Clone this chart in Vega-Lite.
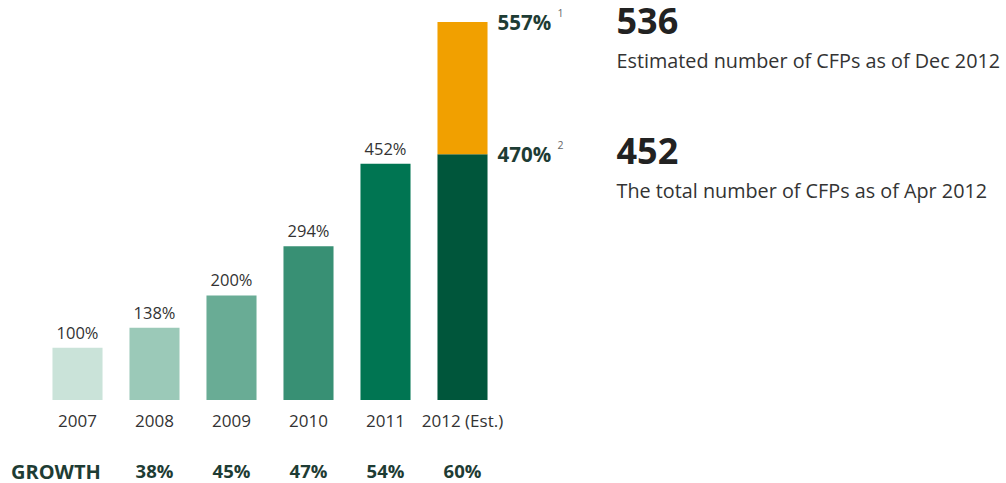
{
  "$schema": "https://vega.github.io/schema/vega-lite/v6.json",
  "padding": {"left": 10, "top": 0, "right": 0, "bottom": 0},
  "background": "white",
  "config": {"view": {"stroke": null}, "font": "Open Sans", "concat": {"spacing": 0}},
  "datasets": {
    "bars": [
      {"year": "2007", "start": 0, "end": 100, "series": "2007", "kind": "actual", "label": "100%", "note": ""},
      {"year": "2008", "start": 0, "end": 138, "series": "2008", "kind": "actual", "label": "138%", "note": ""},
      {"year": "2009", "start": 0, "end": 200, "series": "2009", "kind": "actual", "label": "200%", "note": ""},
      {"year": "2010", "start": 0, "end": 294, "series": "2010", "kind": "actual", "label": "294%", "note": ""},
      {"year": "2011", "start": 0, "end": 452, "series": "2011", "kind": "actual", "label": "452%", "note": ""},
      {"year": "2012 (Est.)", "start": 0, "end": 470, "series": "2012", "kind": "estimate", "label": "470%", "note": "2"},
      {"year": "2012 (Est.)", "start": 470, "end": 723, "series": "2012 Dec estimate", "kind": "estimate", "label": "557%", "note": "1"}
    ],
    "growth": [
      {"year": "2008", "row": "GROWTH", "growth": "38%"},
      {"year": "2009", "row": "GROWTH", "growth": "45%"},
      {"year": "2010", "row": "GROWTH", "growth": "47%"},
      {"year": "2011", "row": "GROWTH", "growth": "54%"},
      {"year": "2012 (Est.)", "row": "GROWTH", "growth": "60%"}
    ],
    "notes": [
      {"count": "536", "note": "Estimated number of CFPs as of Dec 2012", "order": "a"},
      {"count": "452", "note": "The total number of CFPs as of Apr 2012", "order": "b"}
    ]
  },
  "hconcat": [
    {
      "spacing": 33,
      "resolve": {"scale": {"x": "shared"}},
      "vconcat": [
        {
          "width": 462,
          "height": 400,
          "data": {"name": "bars"},
          "encoding": {
            "x": {
              "field": "year", "type": "nominal",
              "scale": {"paddingInner": 0.35, "paddingOuter": 0.175},
              "axis": {"title": null, "domain": false, "ticks": false, "tickSize": 0, "labelPadding": 13, "labelFontSize": 17, "labelColor": "#333333", "labelAngle": 0}
            }
          },
          "layer": [
            {
              "mark": {"type": "bar"},
              "encoding": {
                "y": {"field": "start", "type": "quantitative", "scale": {"domain": [0, 765], "nice": false}, "axis": null},
                "y2": {"field": "end"},
                "color": {
                  "field": "series", "type": "nominal", "legend": null,
                  "scale": {
                    "domain": ["2007", "2008", "2009", "2010", "2011", "2012", "2012 Dec estimate"],
                    "range": ["#cae3d9", "#9bc9b8", "#69ac95", "#389074", "#007552", "#00563b", "#f1a000"]
                  }
                }
              }
            },
            {
              "transform": [{"filter": "datum.kind === 'actual'"}],
              "mark": {"type": "text", "baseline": "bottom", "dy": -6, "fontSize": 16.5, "color": "#333333"},
              "encoding": {
                "y": {"field": "end", "type": "quantitative"},
                "text": {"field": "label"}
              }
            },
            {
              "transform": [{"filter": "datum.kind === 'estimate'"}],
              "mark": {"type": "text", "align": "left", "baseline": "middle", "dx": 35, "dy": 2, "fontSize": 20.5, "fontWeight": "bold", "color": "#1e3c34"},
              "encoding": {
                "y": {"field": "end", "type": "quantitative"},
                "text": {"field": "label"}
              }
            },
            {
              "transform": [{"filter": "datum.kind === 'estimate'"}],
              "mark": {"type": "text", "align": "left", "baseline": "middle", "dx": 95, "dy": -8, "fontSize": 10.5, "color": "#666666"},
              "encoding": {
                "y": {"field": "end", "type": "quantitative"},
                "text": {"field": "note"}
              }
            }
          ]
        },
        {
          "width": 462,
          "height": 20,
          "data": {"name": "growth"},
          "mark": {"type": "text", "fontSize": 18.5, "fontWeight": "bold", "color": "#1e3c34", "baseline": "middle"},
          "encoding": {
            "x": {"field": "year", "type": "nominal", "axis": null},
            "y": {
              "field": "row", "type": "nominal",
              "axis": {"title": null, "domain": false, "ticks": false, "tickSize": 0, "labelAlign": "left", "labelPadding": 28.5, "labelFontSize": 20, "labelFontWeight": "bold", "labelColor": "#1e3c34"}
            },
            "text": {"field": "growth"}
          }
        }
      ]
    },
    {
      "width": 1,
      "height": 174,
      "data": {"name": "notes"},
      "encoding": {
        "y": {"field": "order", "type": "ordinal", "scale": {"type": "point", "padding": 0.17}, "axis": null}
      },
      "layer": [
        {
          "mark": {"type": "text", "align": "left", "baseline": "middle", "dy": 1, "fontSize": 36, "fontWeight": "bold", "color": "#222222"},
          "encoding": {"text": {"field": "count"}}
        },
        {
          "mark": {"type": "text", "align": "left", "baseline": "middle", "dy": 40, "fontSize": 19.8, "color": "#333333"},
          "encoding": {"text": {"field": "note"}}
        }
      ]
    }
  ],
  "spacing": 52
}
